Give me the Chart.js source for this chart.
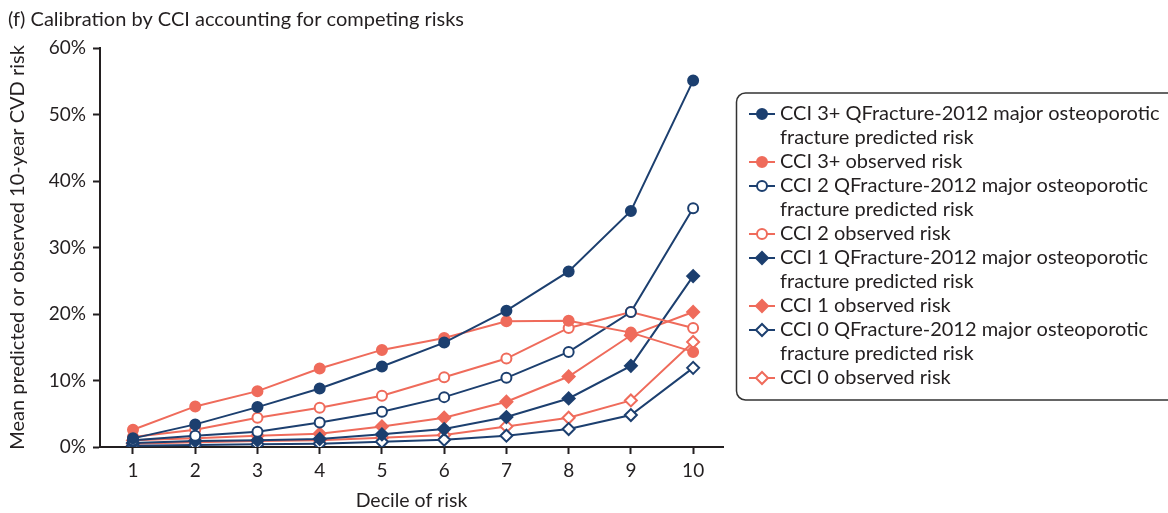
<!DOCTYPE html>
<html>
<head>
<meta charset="utf-8">
<script src="https://cdn.jsdelivr.net/npm/chart.js@4.4.0/dist/chart.umd.min.js"></script>
<style>
    html, body { margin: 0; padding: 0; background: #fff; }
    #wrap { position: relative; width: 1168px; height: 513px; }
</style>
</head>
<body>
<div id="wrap"><canvas id="calibration-chart"></canvas></div>
<script>
// Values (percent)
const deciles = [1, 2, 3, 4, 5, 6, 7, 8, 9, 10];
const yTicks = [0, 10, 20, 30, 40, 50, 60];

const cci3Predicted = [1.3, 3.4, 6.0, 8.8, 12.1, 15.7, 20.5, 26.4, 35.5, 55.1];
const cci3Observed = [2.6, 6.1, 8.4, 11.8, 14.6, 16.4, 18.9, 19.0, 17.2, 14.3];
const cci2Predicted = [1.0, 1.7, 2.3, 3.7, 5.3, 7.5, 10.4, 14.3, 20.3, 35.9];
const cci2Observed = [1.5, 2.6, 4.4, 5.9, 7.7, 10.5, 13.3, 17.9, 20.3, 17.9];
const cci1Predicted = [0.6, 0.9, 1.0, 1.2, 1.9, 2.7, 4.5, 7.3, 12.2, 25.7];
const cci1Observed = [1.0, 1.3, 1.7, 2.0, 3.1, 4.4, 6.8, 10.6, 16.8, 20.3];
const cci0Predicted = [0.2, 0.3, 0.4, 0.5, 0.8, 1.1, 1.7, 2.7, 4.8, 11.9];
const cci0Observed = [0.5, 0.7, 0.9, 1.0, 1.4, 1.8, 3.1, 4.4, 7.0, 15.8];

const seriesLabels = [
    ["CCI 3+ QFracture-2012 major osteoporotic", "fracture predicted risk"],
    ["CCI 3+ observed risk"],
    ["CCI 2 QFracture-2012 major osteoporotic", "fracture predicted risk"],
    ["CCI 2 observed risk"],
    ["CCI 1 QFracture-2012 major osteoporotic", "fracture predicted risk"],
    ["CCI 1 observed risk"],
    ["CCI 0 QFracture-2012 major osteoporotic", "fracture predicted risk"],
    ["CCI 0 observed risk"]
];
const seriesValues = [cci3Predicted, cci3Observed, cci2Predicted, cci2Observed,
                      cci1Predicted, cci1Observed, cci0Predicted, cci0Observed];

const navy = "#1c3f6f";
const salmon = "#ef6b5b";
const ink = "#231f20";
const fontFamily = "Lato, 'Noto Sans', sans-serif";

// colour / marker per series
const looks = [
    { color: navy, shape: "circle", filled: true },
    { color: salmon, shape: "circle", filled: true },
    { color: navy, shape: "circle", filled: false },
    { color: salmon, shape: "circle", filled: false },
    { color: navy, shape: "rectRot", filled: true },
    { color: salmon, shape: "rectRot", filled: true },
    { color: navy, shape: "rectRot", filled: false },
    { color: salmon, shape: "rectRot", filled: false }
];

const datasets = seriesValues.map(function(values, i) {
    const look = looks[i];
    return {
        label: seriesLabels[i].join(" "),
        legendLines: seriesLabels[i],
        data: deciles.map(function(d, j) { return { x: d, y: values[j] }; }),
        borderColor: look.color,
        backgroundColor: look.filled ? look.color : "#fff",
        borderWidth: 2,
        pointStyle: look.shape,
        pointRadius: look.shape === "circle" ? 5 : 6,
        pointBorderWidth: 2,
        pointBackgroundColor: look.filled ? look.color : "#fff",
        pointBorderColor: look.color,
        tension: 0,
        fill: false
    };
});

// chart heading, drawn top-left
const headingPlugin = {
    id: "heading",
    afterDraw: function(chart) {
        const ctx = chart.ctx;
        ctx.save();
        ctx.font = "20px " + fontFamily;
        ctx.fillStyle = ink;
        ctx.textBaseline = "middle";
        ctx.fillText("(f) Calibration by CCI accounting for competing risks", 8, 20);
        ctx.restore();
    }
};

// boxed legend with wrapped labels
const boxLegendPlugin = {
    id: "boxLegend",
    afterDraw: function(chart) {
        const ctx = chart.ctx;
        ctx.save();
        ctx.lineWidth = 1.5;
        ctx.strokeStyle = "#333";
        ctx.beginPath();
        ctx.roundRect(736.5, 93, 460, 307, 9);
        ctx.stroke();

        ctx.font = "20px " + fontFamily;
        ctx.textBaseline = "middle";
        let y = 114;
        chart.data.datasets.forEach(function(ds) {
            ctx.strokeStyle = ds.borderColor;
            ctx.lineWidth = 2;
            ctx.beginPath();
            ctx.moveTo(749, y);
            ctx.lineTo(775, y);
            ctx.stroke();
            ctx.fillStyle = ds.pointBackgroundColor;
            Chart.helpers.drawPoint(ctx, {
                pointStyle: ds.pointStyle,
                radius: ds.pointRadius,
                rotation: 0,
                borderWidth: 2
            }, 762, y);
            ctx.fillStyle = ink;
            ds.legendLines.forEach(function(line) {
                ctx.fillText(line, 780, y);
                y += 24;
            });
        });
        ctx.restore();
    }
};

const ctx = document.getElementById("calibration-chart").getContext("2d");
new Chart(ctx, {
    type: "line",
    data: { datasets: datasets },
    options: {
        responsive: true,
        maintainAspectRatio: false,
        animation: false,
        layout: { padding: { left: 0, right: 445, top: 48, bottom: 0 } },
        plugins: {
            legend: { display: false },
            tooltip: { enabled: false }
        },
        scales: {
            x: {
                type: "linear",
                min: 0.47,
                max: 10.48,
                afterBuildTicks: function(axis) {
                    axis.ticks = deciles.map(function(d) { return { value: d }; });
                },
                afterFit: function(axis) { axis.height = 66; },
                ticks: {
                    color: ink,
                    font: { family: fontFamily, size: 19 },
                    padding: 5,
                    maxRotation: 0
                },
                grid: {
                    drawOnChartArea: false,
                    drawTicks: true,
                    tickLength: 7,
                    tickWidth: 2,
                    color: ink
                },
                border: { display: true, color: ink, width: 2 },
                title: {
                    display: true,
                    text: "Decile of risk",
                    color: ink,
                    font: { family: fontFamily, size: 19.5 },
                    padding: { top: 2, bottom: 1 }
                }
            },
            y: {
                min: 0,
                max: 60,
                afterBuildTicks: function(axis) {
                    axis.ticks = yTicks.map(function(v) { return { value: v }; });
                },
                afterFit: function(axis) { axis.width = 100; },
                ticks: {
                    color: ink,
                    font: { family: fontFamily, size: 19 },
                    padding: 7,
                    callback: function(v) { return v + "%"; }
                },
                grid: {
                    drawOnChartArea: false,
                    drawTicks: true,
                    tickLength: 7,
                    tickWidth: 2,
                    color: ink
                },
                border: { display: true, color: ink, width: 2 },
                title: {
                    display: true,
                    text: "Mean predicted or observed 10-year CVD risk",
                    color: ink,
                    font: { family: fontFamily, size: 20 },
                    padding: { top: 6, bottom: 0 }
                }
            }
        }
    },
    plugins: [headingPlugin, boxLegendPlugin]
});
</script>
</body>
</html>
